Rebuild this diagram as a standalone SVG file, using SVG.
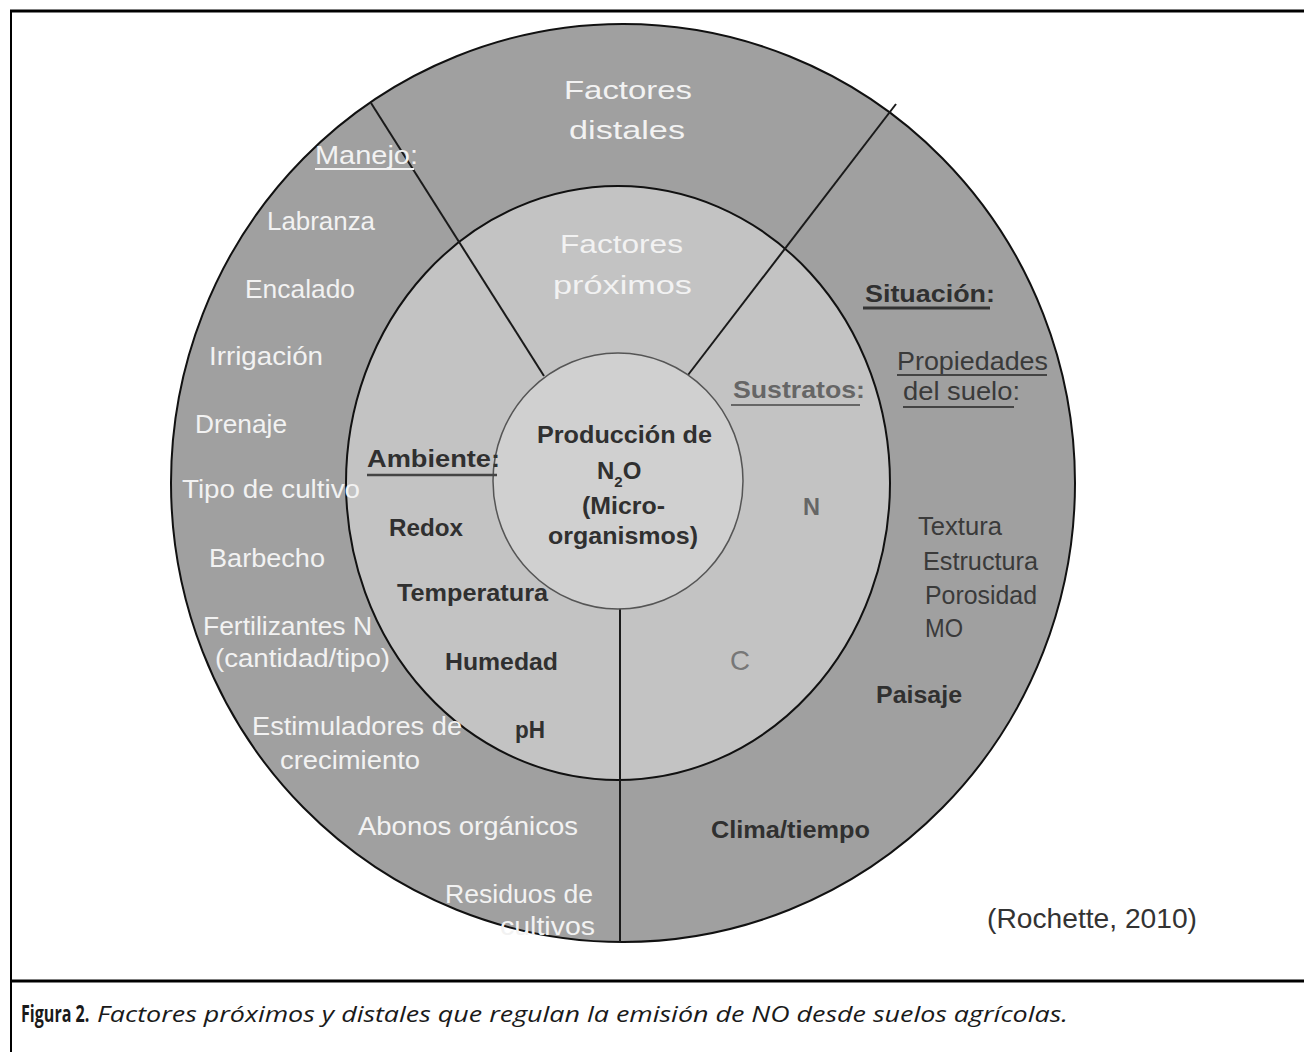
<svg xmlns="http://www.w3.org/2000/svg" width="1304" height="1052" viewBox="0 0 1304 1052">
<style>
text{font-family:"Liberation Sans",Arial,sans-serif;}
.w{fill:#f2f2f2;font-size:25px;}
.d{fill:#303030;font-size:24px;font-weight:bold;}
.r{fill:#3a3a3a;font-size:25px;}
.frame{stroke:#000;fill:none;}
.ring{stroke:#111;stroke-width:2;}
.div{stroke:#1a1a1a;stroke-width:2;fill:none;}
.cap{font-family:"Open Sans","Noto Sans",sans-serif;font-size:21px;fill:#1a1a1a;}
</style>
<rect x="0" y="0" width="1304" height="1052" fill="#fff"/>
<g id="frame">
<line class="frame" x1="10" y1="11" x2="1304" y2="11" stroke-width="3"/>
<line class="frame" x1="11" y1="10" x2="11" y2="1052" stroke-width="2"/>
<line class="frame" x1="10" y1="981" x2="1304" y2="981" stroke-width="3"/>
</g>
<g id="distal-ring">
<ellipse class="ring" cx="623" cy="483" rx="452" ry="459" fill="#a0a0a0"/>
</g>
<g id="proximal-ring">
<ellipse class="ring" cx="618" cy="483" rx="272" ry="297" fill="#c3c3c3"/>
</g>
<g id="connectors">
<line class="div" x1="371" y1="103" x2="544" y2="376"/>
<line class="div" x1="896" y1="104" x2="688" y2="375"/>
<line class="div" x1="620" y1="606" x2="620" y2="942"/>
</g>
<g id="core">
<ellipse cx="618" cy="481" rx="125" ry="128" fill="#d0d0d0" stroke="#555" stroke-width="1.5"/>
<text class="d" x="537" y="443" textLength="175" lengthAdjust="spacingAndGlyphs">Producción de</text>
<text class="d" x="597" y="479">N<tspan font-size="15" dy="8">2</tspan><tspan dy="-8">O</tspan></text>
<text class="d" x="582" y="514" textLength="83" lengthAdjust="spacingAndGlyphs">(Micro-</text>
<text class="d" x="548" y="544" textLength="150" lengthAdjust="spacingAndGlyphs">organismos)</text>
</g>
<g id="distales">
<text class="w" x="564" y="99" font-size="34" textLength="128" lengthAdjust="spacingAndGlyphs">Factores</text>
<text class="w" x="569" y="139" font-size="34" textLength="116" lengthAdjust="spacingAndGlyphs">distales</text>
</g>
<g id="proximos">
<text class="w" x="560" y="253" font-size="31" textLength="123" lengthAdjust="spacingAndGlyphs">Factores</text>
<text class="w" x="553" y="294" font-size="31" textLength="139" lengthAdjust="spacingAndGlyphs">próximos</text>
</g>
<g id="manejo">
<text class="w" x="315" y="164" font-size="28" textLength="103" lengthAdjust="spacingAndGlyphs">Manejo:</text>
<line x1="315" y1="169" x2="414" y2="169" stroke="#f2f2f2" stroke-width="2"/>
<text class="w" x="267" y="230" textLength="108" lengthAdjust="spacingAndGlyphs">Labranza</text>
<text class="w" x="245" y="298" textLength="110" lengthAdjust="spacingAndGlyphs">Encalado</text>
<text class="w" x="209" y="365" textLength="114" lengthAdjust="spacingAndGlyphs">Irrigación</text>
<text class="w" x="195" y="433" textLength="92" lengthAdjust="spacingAndGlyphs">Drenaje</text>
<text class="w" x="182" y="498" textLength="178" lengthAdjust="spacingAndGlyphs">Tipo de cultivo</text>
<text class="w" x="209" y="567" textLength="116" lengthAdjust="spacingAndGlyphs">Barbecho</text>
<text class="w" x="203" y="635" textLength="169" lengthAdjust="spacingAndGlyphs">Fertilizantes N</text>
<text class="w" x="215" y="667" textLength="175" lengthAdjust="spacingAndGlyphs">(cantidad/tipo)</text>
<text class="w" x="252" y="735" textLength="210" lengthAdjust="spacingAndGlyphs">Estimuladores de</text>
<text class="w" x="280" y="769" textLength="140" lengthAdjust="spacingAndGlyphs">crecimiento</text>
<text class="w" x="358" y="835" textLength="220" lengthAdjust="spacingAndGlyphs">Abonos orgánicos</text>
<text class="w" x="445" y="903" textLength="148" lengthAdjust="spacingAndGlyphs">Residuos de</text>
<text class="w" x="500" y="935" textLength="95" lengthAdjust="spacingAndGlyphs">cultivos</text>
</g>
<g id="ambiente">
<text class="d" x="367" y="467" textLength="133" lengthAdjust="spacingAndGlyphs">Ambiente:</text>
<line x1="367" y1="475" x2="497" y2="475" stroke="#444" stroke-width="2.5"/>
<text class="d" x="389" y="536" textLength="74" lengthAdjust="spacingAndGlyphs">Redox</text>
<text class="d" x="397" y="601" textLength="151" lengthAdjust="spacingAndGlyphs">Temperatura</text>
<text class="d" x="445" y="670" textLength="113" lengthAdjust="spacingAndGlyphs">Humedad</text>
<text class="d" x="515" y="738" textLength="30" lengthAdjust="spacingAndGlyphs">pH</text>
</g>
<g id="sustratos">
<text class="d" x="733" y="398" font-size="26" style="fill:#666" textLength="132" lengthAdjust="spacingAndGlyphs">Sustratos:</text>
<line x1="731" y1="405" x2="860" y2="405" stroke="#666" stroke-width="2"/>
<text class="d" x="803" y="515" font-size="26" style="fill:#666" textLength="17" lengthAdjust="spacingAndGlyphs">N</text>
<text x="730" y="670" font-size="28" fill="#777" textLength="20" lengthAdjust="spacingAndGlyphs">C</text>
</g>
<g id="situacion">
<text class="d" x="865" y="302" font-size="26" textLength="130" lengthAdjust="spacingAndGlyphs">Situación:</text>
<line x1="863" y1="308" x2="990" y2="308" stroke="#333" stroke-width="3"/>
<text class="r" x="897" y="370" font-size="26" textLength="151" lengthAdjust="spacingAndGlyphs">Propiedades</text>
<line x1="897" y1="375" x2="1047" y2="375" stroke="#444" stroke-width="2"/>
<text class="r" x="903" y="400" font-size="26" textLength="117" lengthAdjust="spacingAndGlyphs">del suelo:</text>
<line x1="903" y1="407" x2="1014" y2="407" stroke="#444" stroke-width="2"/>
<text class="r" x="918" y="535" textLength="84" lengthAdjust="spacingAndGlyphs">Textura</text>
<text class="r" x="923" y="570" textLength="115" lengthAdjust="spacingAndGlyphs">Estructura</text>
<text class="r" x="925" y="604" textLength="112" lengthAdjust="spacingAndGlyphs">Porosidad</text>
<text class="r" x="925" y="637" textLength="38" lengthAdjust="spacingAndGlyphs">MO</text>
<text class="d" x="876" y="703" textLength="86" lengthAdjust="spacingAndGlyphs">Paisaje</text>
<text class="d" x="711" y="838" textLength="159" lengthAdjust="spacingAndGlyphs">Clima/tiempo</text>
</g>
<g id="source">
<text x="987" y="928" font-size="28" fill="#333" textLength="210" lengthAdjust="spacingAndGlyphs">(Rochette, 2010)</text>
</g>
<g id="caption">
<text class="cap" transform="translate(21,1022) scale(0.7,1)" x="0" y="0" style="font-size:23px;font-weight:bold">Figura 2.</text>
<text class="cap" x="97" y="1022" font-style="italic" textLength="971" lengthAdjust="spacingAndGlyphs">Factores próximos y distales que regulan la emisión de NO desde suelos agrícolas.</text>
</g>
</svg>
